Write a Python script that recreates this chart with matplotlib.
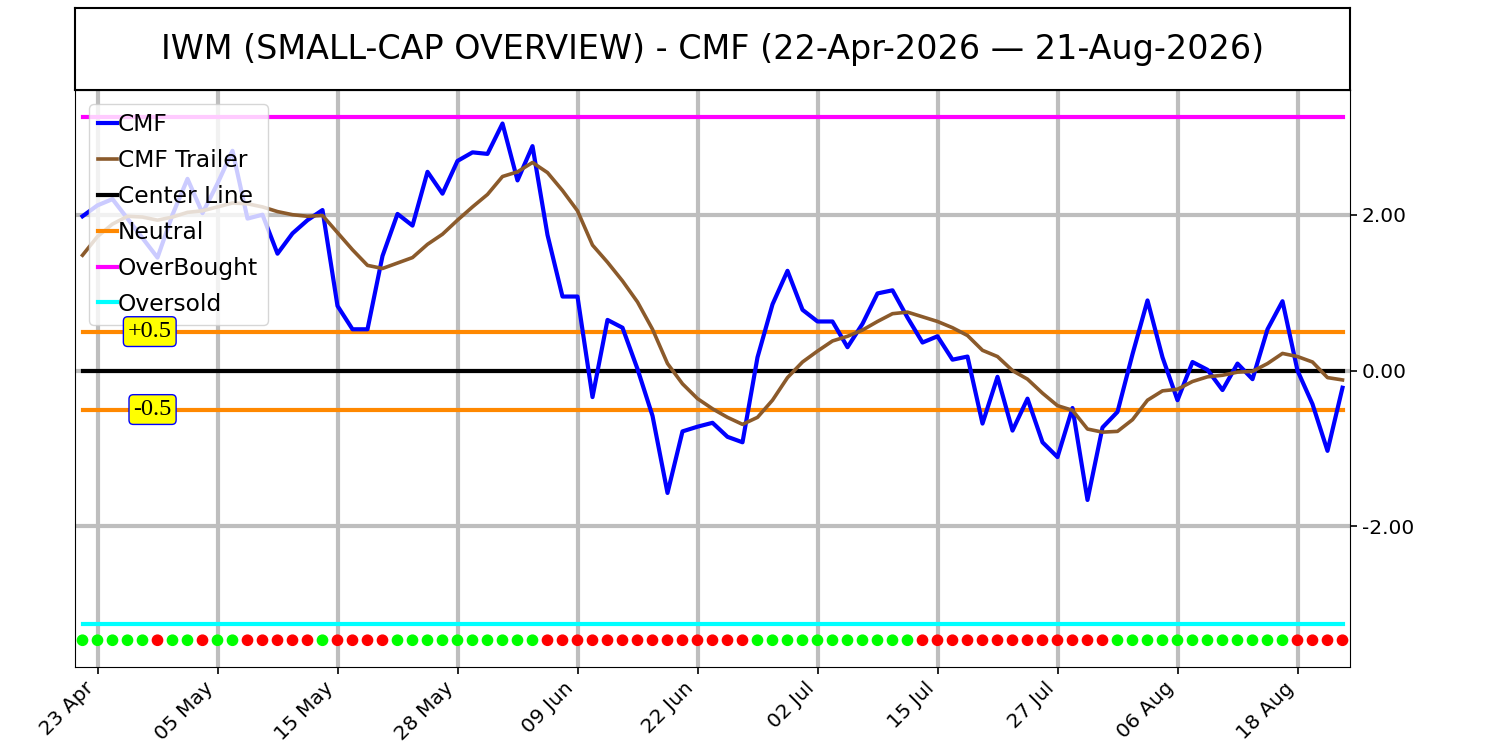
import numpy as np
import pandas as pd
import matplotlib
matplotlib.use('Agg')
import matplotlib.pyplot as plt

#  Trading days shown on the chart (US market holidays removed)
holidays = ['2026-05-25', '2026-06-19', '2026-07-03']
dates = pd.bdate_range('2026-04-22', '2026-08-21', freq='C', holidays=holidays)

#  CMF values, one per trading day
cmf = [1.98, 2.12, 2.20, 1.95, 1.70, 1.45, 2.00, 2.46, 2.02, 2.40,
       2.82, 1.95, 2.00, 1.50, 1.76, 1.93, 2.06, 0.83, 0.53, 0.53,
       1.47, 2.01, 1.86, 2.55, 2.27, 2.69, 2.80, 2.78, 3.17, 2.44,
       2.88, 1.74, 0.95, 0.95, -0.34, 0.65, 0.55, 0.02, -0.58, -1.57,
       -0.78, -0.72, -0.67, -0.85, -0.92, 0.17, 0.85, 1.28, 0.78, 0.63,
       0.63, 0.30, 0.60, 0.99, 1.03, 0.68, 0.36, 0.44, 0.14, 0.18,
       -0.68, -0.08, -0.77, -0.36, -0.92, -1.11, -0.48, -1.66, -0.73, -0.53,
       0.21, 0.90, 0.17, -0.38, 0.11, 0.01, -0.25, 0.09, -0.11, 0.53,
       0.89, 0.00, -0.43, -1.03, -0.22]

#  Trailer (smoothed CMF)
trailer = [1.48, 1.72, 1.88, 1.98, 1.97, 1.93, 1.97, 2.03, 2.05, 2.10,
           2.15, 2.14, 2.10, 2.04, 2.00, 1.98, 1.99, 1.77, 1.55, 1.35,
           1.31, 1.38, 1.45, 1.62, 1.75, 1.93, 2.10, 2.26, 2.49, 2.55,
           2.67, 2.54, 2.31, 2.05, 1.61, 1.39, 1.15, 0.88, 0.53, 0.09,
           -0.17, -0.36, -0.49, -0.60, -0.69, -0.60, -0.38, -0.09, 0.11, 0.25,
           0.38, 0.44, 0.52, 0.63, 0.73, 0.75, 0.69, 0.63, 0.55, 0.45,
           0.26, 0.18, 0.00, -0.11, -0.29, -0.45, -0.51, -0.75, -0.79, -0.78,
           -0.63, -0.38, -0.26, -0.24, -0.14, -0.08, -0.06, -0.02, -0.01, 0.09,
           0.22, 0.18, 0.11, -0.09, -0.12]

#  Signal dots along the bottom: G = green, R = red
signal = ("GGGGG" "R" "GG" "R" "GG" "RRRRR" "G" "RRRR" "GGGGGGGGGG"
          "RRRRRRRRRRRRRR" "GGGGGGGGGGG" "RRRRRRRRRRRRR" "GGGGGGGGGGGG" "RRRR")

center_level = 0.0
neutral_level = 0.5
overbought_level = 3.25
oversold_level = -3.25
dot_level = -3.46

title = 'IWM (SMALL-CAP OVERVIEW) - CMF (22-Apr-2026 \u2014 21-Aug-2026)'

x = np.arange(len(dates))
n = len(x)

fig = plt.figure(figsize=(15, 7.5), dpi=100)
ax = fig.add_axes([0.05, 0.111, 0.85, 0.769])
tax = fig.add_axes([0.05, 0.88, 0.85, 0.109])

#  Title box
tax.set_xticks([])
tax.set_yticks([])
for s in tax.spines.values():
    s.set_linewidth(1.5)
tax.text(0.5, 0.5, title, ha='center', va='center', fontsize=24,
         transform=tax.transAxes)

#  Reference lines
ax.plot(x, np.full(n, center_level), color='black', lw=3, label='Center Line')
ax.plot(x, np.full(n, neutral_level), color='#ff8800', lw=3, label='Neutral')
ax.plot(x, np.full(n, -neutral_level), color='#ff8800', lw=3)
ax.plot(x, np.full(n, overbought_level), color='magenta', lw=3, label='OverBought')
ax.plot(x, np.full(n, oversold_level), color='cyan', lw=3, label='Oversold')

#  CMF and its trailer
ax.plot(x, cmf, color='blue', lw=3, label='CMF', zorder=3)
ax.plot(x, trailer, color='#8b5a2b', lw=2.6, label='CMF Trailer', zorder=3)

#  Signal dots
dot_colors = ['#00ff00' if c == 'G' else 'red' for c in signal]
ax.scatter(x, np.full(n, dot_level), c=dot_colors, s=55, zorder=4)

#  +0.5 / -0.5 tags (drawn above the legend)
box = dict(boxstyle='round,pad=0.18', fc='yellow', ec='blue')
ax.text(5.95, neutral_level, '+0.5', ha='right', va='center', fontsize=17.5,
        family='Liberation Serif', bbox=box, zorder=7)
ax.text(5.95, -neutral_level, '-0.5', ha='right', va='center', fontsize=17.5,
        family='Liberation Serif', bbox=box, zorder=7)

ax.set_xlim(-0.5, n - 0.5)
ax.set_ylim(-3.8, 3.6)

tick_idx = x[1::8]
ax.set_xticks(tick_idx)
ax.set_xticklabels([dates[i].strftime('%d %b') for i in tick_idx],
                   rotation=45, ha='right', fontsize=14.5)
ax.yaxis.tick_right()
ax.set_yticks([-2, 0, 2])
ax.set_yticklabels(['%.2f' % v for v in [-2, 0, 2]], fontsize=14.5)
ax.tick_params(length=5, width=1.2)
ax.grid(True, color='#bebebe', lw=3)
ax.set_axisbelow(True)

handles, labels = ax.get_legend_handles_labels()
order = ['CMF', 'CMF Trailer', 'Center Line', 'Neutral', 'OverBought', 'Oversold']
hmap = dict(zip(labels, handles))
leg = ax.legend([hmap[k] for k in order], order, loc='upper left', fontsize=16.8,
                handlelength=0.8, handletextpad=0.05, labelspacing=0.55,
                borderpad=0.4, borderaxespad=0.6)
leg.set_zorder(6)

fig.savefig('out.png', dpi=100)
